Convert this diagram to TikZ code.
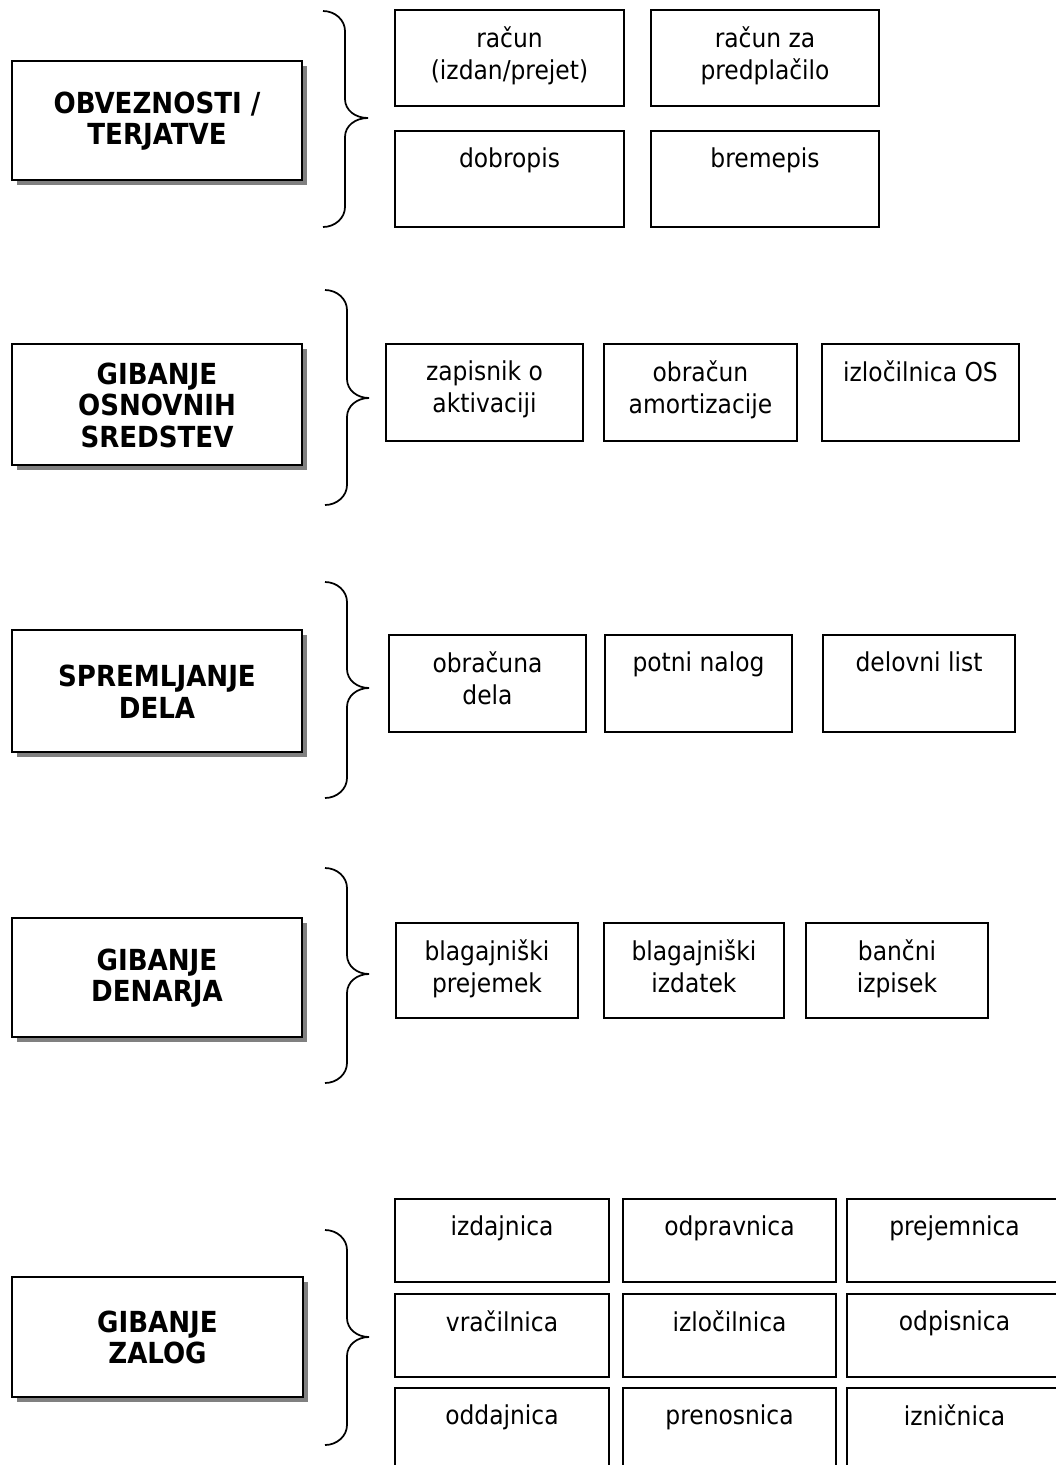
\documentclass[tikz,border=0pt]{standalone}
\usepackage{fontspec}
\setmainfont{DejaVu Sans Condensed}
\usetikzlibrary{fit,shadows}
\tikzset{
  docbox/.style={draw=black, line width=1.1pt, inner sep=0pt, fill=white},
  mainbox/.style={draw=black, line width=1.4pt, inner sep=0pt, fill=white,
    drop shadow={shadow xshift=3.75pt, shadow yshift=-3.75pt, fill=black!50, opacity=1}},
  mainlbl/.style={align=center, inner sep=0pt, anchor=center,
    font=\bfseries\fontsize{21.75}{23.5}\selectfont},
  doclbl/.style={align=center, inner sep=0pt, anchor=north, font=\fontsize{19.5}{24}\selectfont},
  bracel/.style={draw=black, line width=1.3pt}
}
\newcommand\docbox[6]{%
  \node[docbox, fit={(#2,#3)(#4,#5)}] (#1) {};
  \node[doclbl] (#1t) at ([yshift=-12.75pt]#1.north) {#6};
}
\newcommand\mainbox[6]{%
  \node[mainbox, fit={(#2,#3)(#4,#5)}] (#1) {};
  \node[mainlbl] (#1t) at ([yshift=-0.5pt]#1.center) {#6};
}
% #1 left x, #2 vertical x, #3 tip x, #4 top y, #5 tip y, #6 bottom y
\newcommand\mybrace[6]{%
  \draw[bracel] (#1,#4) .. controls (#1+12,#4) and (#2,#4+9) .. (#2,#4+20)
    -- (#2,#5-19) .. controls (#2,#5-8) and (#2+10,#5) .. (#3,#5)
    .. controls (#2+10,#5) and (#2,#5+8) .. (#2,#5+19)
    -- (#2,#6-20) .. controls (#2,#6-9) and (#1+12,#6) .. (#1,#6);
}
\begin{document}
\begin{tikzpicture}[x=0.75pt, y=-0.75pt]
\useasboundingbox (0,0) rectangle (1056,1465);
\clip (0,0) rectangle (1056,1465);

% Section 1
\mainbox{obv}{12}{61}{302}{180}{OBVEZNOSTI /\\TERJATVE}
\mybrace{323}{345}{368}{11}{118}{227}
\docbox{racun}{395}{10}{624}{106}{račun\\(izdan/prejet)}
\docbox{predpl}{651}{10}{879}{106}{račun za\\predplačilo}
\docbox{dobro}{395}{131}{624}{227}{dobropis}
\docbox{breme}{651}{131}{879}{227}{bremepis}

% Section 2
\mainbox{os}{12}{344}{302}{465}{GIBANJE\\OSNOVNIH\\SREDSTEV}
\mybrace{325}{347}{369}{290}{398}{505}
\docbox{zapis}{386}{344}{583}{441}{zapisnik o\\aktivaciji}
\docbox{amort}{604}{344}{797}{441}{obračun\\amortizacije}
\docbox{izlos}{822}{344}{1019}{441}{izločilnica OS}

% Section 3
\mainbox{dela}{12}{630}{302}{752}{SPREMLJANJE\\DELA}
\mybrace{325}{347}{369}{582}{688}{798}
\docbox{obrdel}{389}{635}{586}{732}{obračuna\\dela}
\docbox{potni}{605}{635}{792}{732}{potni nalog}
\docbox{delov}{823}{635}{1015}{732}{delovni list}

% Section 4
\mainbox{den}{12}{918}{302}{1037}{GIBANJE\\DENARJA}
\mybrace{325}{347}{369}{868}{974}{1083}
\docbox{blprej}{396}{923}{578}{1018}{blagajniški\\prejemek}
\docbox{blizd}{604}{923}{784}{1018}{blagajniški\\izdatek}
\docbox{banc}{806}{923}{988}{1018}{bančni\\izpisek}

% Section 5
\mainbox{zal}{12}{1277}{303}{1397}{GIBANJE\\ZALOG}
\mybrace{325}{347}{369}{1230}{1337}{1445}
\docbox{izdaj}{395}{1199}{609}{1282}{izdajnica}
\docbox{odprav}{623}{1199}{836}{1282}{odpravnica}
\docbox{prejem}{847}{1199}{1062}{1282}{prejemnica}
\docbox{vracil}{395}{1294}{609}{1377}{vračilnica}
\docbox{izloc}{623}{1294}{836}{1377}{izločilnica}
\docbox{odpis}{847}{1294}{1062}{1377}{odpisnica}
\docbox{oddaj}{395}{1388}{609}{1490}{oddajnica}
\docbox{preno}{623}{1388}{836}{1490}{prenosnica}
\docbox{iznic}{847}{1388}{1062}{1490}{izničnica}
\end{tikzpicture}
\end{document}
